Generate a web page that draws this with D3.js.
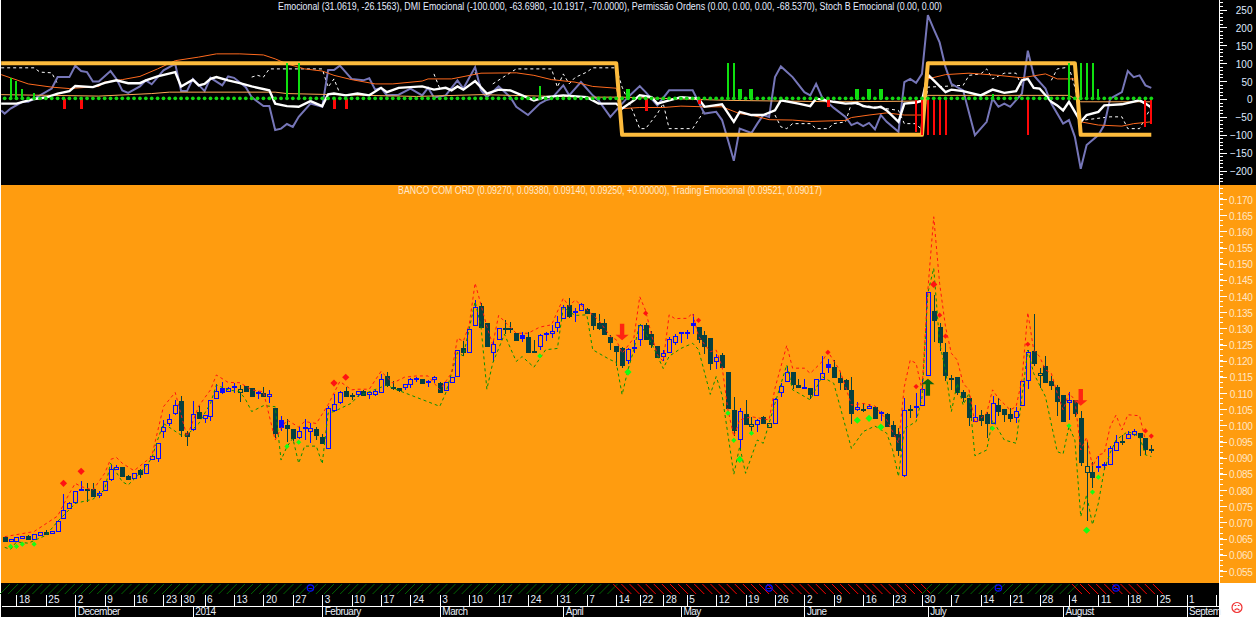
<!DOCTYPE html>
<html><head><meta charset="utf-8">
<script src="https://cdn.jsdelivr.net/npm/d3@7"></script>
<style>html,body{margin:0;padding:0;background:#fff;overflow:hidden}svg{display:block}text{font-family:"Liberation Sans",Arial,sans-serif}</style>
</head><body><svg id="c" width="1256" height="617"></svg>
<script>
const opens=[.0656,.0642,.0641,.0650,.0659,.0648,.0662,.0671,.0666,.0673,.0713,.0746,.0762,.0804,.0804,.0804,.0786,.0799,.0832,.0867,.0872,.0844,.0836,.0862,.0851,.0897,.0898,.0985,.1008,.1036,.1074,.0977,.0990,.1042,.1024,.1030,.1083,.1104,.1105,.1121,.1112,.1121,.1115,.1102,.1099,.1089,.1054,.0995,.1001,.0989,.0962,.0991,.0981,.0988,.0964,.0930,.1046,.1071,.1105,.1093,.1096,.1107,.1097,.1097,.1105,.1152,.1120,.1115,.1118,.1128,.1142,.1143,.1133,.1142,.1131,.1109,.1133,.1154,.1240,.1226,.1310,.1370,.1316,.1226,.1267,.1301,.1301,.1285,.1269,.1274,.1231,.1245,.1286,.1284,.1304,.1332,.1372,.1353,.1355,.1359,.1347,.1317,.1317,.1273,.1246,.1239,.1202,.1244,.1265,.1311,.1283,.1246,.1215,.1225,.1259,.1288,.1290,.1309,.1304,.1279,.1270,.1200,.1218,.1165,.1048,.0956,.1035,.0999,.1004,.1025,.1007,.1008,.1101,.1137,.1165,.1124,.1120,.1116,.1095,.1142,.1182,.1180,.1147,.1141,.1110,.1052,.1050,.1054,.1057,.1042,.1036,.1002,.0974,.0845,.1052,.1055,.1063,.1154,.1354,.1305,.1227,.1148,.1150,.1104,.1084,.1015,.1033,.1035,.1007,.1063,.1051,.1036,.1024,.1062,.1139,.1230,.1161,.1184,.1138,.1119,.1094,.1074,.1079,.1022,.0874,.0856,.0875,.0876,.0881,.0925,.0951,.0963,.0972,.0976,.0961,.0927];
const highs=[.0659,.0650,.0655,.0658,.0661,.0664,.0672,.0677,.0674,.0708,.0788,.0763,.0798,.0828,.0821,.0821,.0798,.0828,.0878,.0878,.0873,.0847,.0853,.0864,.0881,.0906,.0946,.1017,.1035,.1079,.1091,.0982,.1077,.1060,.1033,.1079,.1128,.1134,.1120,.1130,.1126,.1123,.1116,.1106,.1120,.1110,.1055,.1029,.1019,.0990,.0996,.1019,.1009,.0994,.0972,.1060,.1097,.1105,.1118,.1100,.1106,.1108,.1104,.1110,.1160,.1165,.1138,.1116,.1128,.1148,.1151,.1144,.1139,.1153,.1133,.1135,.1151,.1234,.1260,.1299,.1388,.1378,.1317,.1260,.1302,.1326,.1320,.1286,.1289,.1289,.1263,.1282,.1290,.1311,.1337,.1373,.1393,.1363,.1378,.1363,.1348,.1345,.1328,.1280,.1247,.1241,.1239,.1263,.1310,.1318,.1292,.1247,.1233,.1272,.1282,.1290,.1295,.1345,.1305,.1292,.1271,.1221,.1223,.1166,.1088,.1054,.1079,.1025,.1019,.1030,.1009,.1084,.1130,.1184,.1166,.1144,.1144,.1117,.1144,.1215,.1204,.1202,.1165,.1143,.1149,.1073,.1069,.1065,.1060,.1046,.1037,.1014,.0991,.1085,.1062,.1099,.1144,.1412,.1403,.1316,.1254,.1156,.1151,.1110,.1085,.1063,.1048,.1043,.1091,.1084,.1052,.1053,.1058,.1138,.1233,.1345,.1178,.1215,.1153,.1125,.1095,.1102,.1080,.1045,.0950,.0888,.0904,.0888,.0935,.0971,.0971,.0983,.0989,.0978,.0962,.0938];
const lows=[.0639,.0640,.0640,.0649,.0649,.0647,.0660,.0660,.0665,.0672,.0712,.0743,.0758,.0803,.0763,.0782,.0775,.0798,.0828,.0862,.0840,.0833,.0835,.0836,.0850,.0896,.0888,.0962,.0998,.1033,.0965,.0936,.0983,.1021,.1006,.1015,.1082,.1097,.1104,.1101,.1072,.1103,.1088,.1081,.1087,.1068,.0960,.0984,.0950,.0952,.0959,.0955,.0947,.0955,.0942,.0928,.1040,.1067,.1088,.1079,.1087,.1095,.1083,.1090,.1099,.1120,.1110,.1102,.1110,.1117,.1133,.1127,.1120,.1131,.1100,.1107,.1132,.1153,.1215,.1225,.1309,.1301,.1241,.1195,.1266,.1282,.1285,.1262,.1257,.1228,.1228,.1232,.1260,.1270,.1290,.1331,.1333,.1321,.1353,.1344,.1296,.1294,.1280,.1232,.1184,.1179,.1190,.1223,.1247,.1264,.1239,.1211,.1200,.1224,.1249,.1254,.1268,.1282,.1254,.1221,.1171,.1175,.1177,.1052,.0966,.0924,.1002,.0981,.0981,.1003,.0995,.1007,.1088,.1135,.1114,.1115,.1118,.1081,.1094,.1141,.1163,.1147,.1110,.1108,.1005,.1045,.1043,.1050,.1022,.1014,.0996,.0966,.0907,.0842,.1023,.1022,.1062,.1153,.1259,.1230,.1136,.1110,.1094,.1071,.0999,.1014,.0997,.0961,.1006,.1030,.1012,.1010,.1007,.1061,.1114,.1185,.1117,.1134,.1110,.1030,.1014,.1017,.1027,.0875,.0706,.0808,.0857,.0861,.0878,.0923,.0939,.0961,.0966,.0906,.0909,.0914];
const closes=[.0643,.0648,.0654,.0657,.0650,.0663,.0670,.0666,.0673,.0704,.0738,.0760,.0796,.0805,.0803,.0783,.0792,.0827,.0864,.0872,.0844,.0836,.0852,.0851,.0880,.0905,.0945,.0996,.1019,.1062,.0984,.0968,.1036,.1024,.1032,.1078,.1105,.1115,.1115,.1121,.1104,.1104,.1089,.1102,.1089,.1096,.0978,.1017,.0993,.0962,.0982,.0994,.0991,.0968,.0946,.1055,.1066,.1103,.1090,.1092,.1105,.1096,.1103,.1107,.1144,.1123,.1119,.1110,.1127,.1143,.1146,.1130,.1136,.1149,.1102,.1134,.1150,.1233,.1227,.1298,.1366,.1305,.1246,.1251,.1301,.1300,.1300,.1263,.1279,.1229,.1229,.1279,.1286,.1291,.1321,.1366,.1337,.1353,.1375,.1347,.1311,.1301,.1282,.1256,.1231,.1187,.1235,.1244,.1309,.1267,.1252,.1213,.1223,.1266,.1277,.1288,.1290,.1316,.1267,.1244,.1192,.1211,.1180,.1054,.0986,.1044,.1005,.1004,.1016,.1005,.0996,.1081,.1121,.1164,.1128,.1117,.1120,.1097,.1143,.1161,.1190,.1148,.1135,.1112,.1040,.1057,.1049,.1060,.1024,.1042,.1000,.0969,.0925,.1047,.1051,.1059,.1112,.1411,.1326,.1259,.1157,.1147,.1105,.1088,.1024,.1026,.1019,.1006,.1069,.1043,.1034,.1024,.1044,.1137,.1227,.1194,.1155,.1136,.1125,.1077,.1015,.1079,.1040,.0886,.0854,.0842,.0875,.0880,.0931,.0950,.0950,.0974,.0982,.0963,.0928,.0925];
const hollowDark=[40,127,130,176,184];
const filledBlue=[37,47,88,117,140];

const upperIdx=[0,5,9,11,12,13,15,17,18,19,20,22,25,27,29,31,33,35,36,38,40,42,44,46,47,48,50,51,53,55,57,59,60,62,64,66,68,70,72,74,76,77,78,79,80,81,82,83,84,87,89,91,93,95,96,97,99,101,103,104,105,107,108,109,110,111,112,113,114,115,116,117,118,120,121,122,123,124,125,127,130,131,133,134,136,137,139,140,142,143,144,146,148,150,152,153,154,155,156,157,158,159,160,161,162,163,164,165,166,167,168,169,171,172,173,174,175,176,177,178,179,180,181,182,183,184,185,186,187,188,189,190,191,193,194];
const upperVal=[.0656,.0672,.0720,.0790,.0821,.0811,.0800,.0852,.0895,.0901,.0883,.0860,.0904,.1058,.1102,.0965,.1060,.1110,.1156,.1133,.1132,.1110,.1104,.0955,.0991,.1017,.0995,.1012,.1006,.1064,.1136,.1110,.1112,.1112,.1167,.1131,.1149,.1153,.1153,.1110,.1162,.1270,.1260,.1311,.1440,.1373,.1306,.1250,.1340,.1285,.1285,.1304,.1311,.1393,.1368,.1388,.1357,.1326,.1275,.1265,.1223,.1270,.1398,.1355,.1280,.1218,.1198,.1342,.1330,.1331,.1331,.1347,.1275,.1228,.1233,.1182,.1048,.0966,.1017,.1027,.1017,.1115,.1247,.1177,.1177,.1161,.1197,.1228,.1171,.1120,.1063,.1068,.1060,.1017,.0945,.1120,.1202,.1192,.1110,.1419,.1645,.1439,.1305,.1223,.1202,.1130,.1110,.1007,.1022,.1038,.1110,.1084,.1048,.1058,.1141,.1349,.1233,.1213,.1172,.1161,.1100,.1048,.1100,.1079,.0924,.0963,.0873,.0909,.0914,.0996,.1032,.0986,.1033,.1030,.0955];
const lowerIdx=[0,1,2,4,7,9,12,15,17,18,20,21,23,25,26,27,30,31,33,35,36,38,40,41,42,44,46,47,48,49,50,51,53,54,55,56,59,60,65,66,74,75,77,78,80,81,82,83,85,86,87,88,90,92,94,95,97,99,100,102,103,104,105,106,107,108,110,112,113,115,117,118,120,121,122,124,125,126,128,129,131,133,134,135,137,139,141,144,146,148,150,151,152,153,155,156,157,158,159,160,161,162,163,164,165,167,168,170,172,173,174,175,177,179,180,181,182,183,184,185,186,187,188,189,191,193,194,195];
const lowerVal=[.0623,.0617,.0640,.0636,.0660,.0703,.0759,.0772,.0801,.0883,.0826,.0816,.0852,.0898,.0955,.1006,.0970,.0970,.1006,.1068,.1125,.1110,.1104,.1079,.1043,.1061,.1058,.0893,.0934,.0960,.0883,.0936,.0936,.0881,.1038,.1043,.1069,.1090,.1125,.1115,.1059,.1100,.1225,.1215,.1383,.1306,.1112,.1193,.1282,.1239,.1198,.1213,.1180,.1234,.1238,.1365,.1340,.1342,.1234,.1213,.1203,.1195,.1095,.1172,.1234,.1316,.1254,.1176,.1214,.1238,.1254,.1234,.1096,.1151,.1094,.0849,.0935,.0852,.0955,.0945,.1068,.1187,.1110,.1100,.1079,.1151,.1130,.0929,.0981,.0998,.0976,.0925,.0842,.0990,.1012,.1085,.1410,.1486,.1254,.1172,.1043,.1130,.1063,.1100,.0906,.0924,.1017,.0955,.0945,.1089,.1233,.1161,.1089,.0919,.0912,.0997,.0955,.0718,.0785,.0693,.0760,.0863,.0915,.0955,.0981,.0966,.0909,.0904];

const bigRedIdx=[10,13,56,58,158], bigRedVal=[.0821,.0858,.1131,.1149,.1436];
const smallRedIdx=[109,118,140,155,159,160,174,194,195], smallRedVal=[.1347,.1325,.1226,.1120,.1341,.1276,.1251,.0983,.0967];
const bigGreenIdx=[106,125,145,147,149,184], bigGreenVal=[.1165,.0895,.1016,.1022,.0995,.0676];
const smallGreenIdx=[1,2,3,5,48,50,91,123,124,127,168,181,185,186], smallGreenVal=[.0626,.0626,.0633,.0633,.0935,.0948,.1215,.1038,.0954,.0976,.0991,.0999,.0794,.0840];
const arrowIdx=[105,183,157], arrowTail=[.1314,.1113,.1092], arrowTip=[.1263,.1061,.1144], arrowColor=["#ff2412","#ff2412","#0f630f"];

const yellowIdx=[-0.6,104,105,156,157,182,183,195], yellowVal=[100,100,-100,-100,100,100,-100,-100];
const purpleIdx=[-0.6,0,1,3,4,5,6,8,9,11,12,13,14,15,16,18,19,20,21,23,24,25,27,28,29,30,31,32,34,35,37,38,39,41,42,44,45,46,47,48,49,50,52,54,55,56,57,59,61,62,63,64,65,67,69,71,72,73,75,77,78,80,81,82,84,86,87,89,91,92,93,95,96,98,100,101,103,105,106,108,109,111,113,115,117,119,121,122,123,124,125,127,128,129,130,131,132,134,136,137,138,139,141,143,144,145,146,147,148,149,150,152,153,154,155,156,157,158,159,160,161,163,165,167,168,169,170,171,173,174,175,177,178,180,181,182,183,184,186,187,188,189,190,191,192,193,194,195];
const purpleVal=[-32,-41,-27,-8,-8,0,10,29,61,61,93,78,75,49,49,78,56,24,17,35,52,41,80,89,98,22,22,56,22,59,38,63,59,33,5,-20,-20,-87,-83,-70,-78,-50,-13,-22,81,81,93,56,52,58,26,31,10,12,29,10,31,4,10,52,29,89,24,5,35,5,-22,-45,-13,-4,1,38,10,47,10,-4,-50,-13,5,36,19,-18,24,24,24,-41,-36,-59,-115,-173,-83,-95,-69,-45,-50,61,91,61,19,10,42,5,-25,-50,-73,-66,-76,-67,-85,-45,-64,-92,47,56,45,70,234,195,158,89,42,24,-101,-64,1,-22,-13,-22,15,135,66,29,-13,-69,-59,-106,-195,-129,-101,-73,1,10,19,78,61,66,38,31];
const whiteIdx=[-0.6,2,5,7,9,11,12,15,17,19,21,23,24,26,29,30,32,33,34,35,36,38,40,42,45,46,48,50,52,54,55,56,58,60,62,64,65,67,71,73,75,76,77,78,80,82,84,86,88,90,92,95,99,101,104,105,107,108,110,111,113,115,118,119,122,124,125,127,129,131,132,135,137,138,141,143,145,146,148,149,150,152,153,155,156,157,158,160,161,163,166,168,170,172,173,174,175,176,178,179,180,181,183,184,186,187,190,193,194,195];
const whiteVal=[-13,-13,0,4,15,22,36,33,45,52,44,44,52,63,75,35,54,38,42,56,61,52,44,35,24,-13,-20,-22,-6,-20,13,15,10,15,10,31,19,31,35,26,31,24,35,26,50,15,26,24,10,-4,5,10,5,-13,-13,-27,-4,10,5,-13,-4,5,1,-22,-15,-64,-36,-45,-45,-32,-4,-13,-20,1,-8,-13,-11,-20,-25,-22,-32,-64,-13,-10,-5,68,52,19,26,22,10,26,17,22,52,56,31,29,-8,-18,-32,-8,-64,-45,-36,-18,-15,-4,-13,-24];
const orange1Idx=[-0.6,1,4,8,11,16,17,20,23,26,29,33,36,40,44,46,48,51,54,56,59,63,66,71,72,76,81,87,90,93,97,100,104,105,108,112,115,119,122,125,127,130,134,137,141,143,144,147,150,153,156,157,160,164,169,173,177,179,182,183,186,190,192,195];
const orange1Val=[68,59,42,33,29,35,47,54,63,84,107,117,126,126,123,112,98,84,78,66,54,42,42,50,56,56,72,73,66,54,47,35,30,-27,-24,-24,-20,-22,-22,-41,-45,-58,-59,-63,-61,-60,-52,-45,-39,-45,-45,56,68,72,66,59,70,56,56,-64,-73,-76,-69,-64];
const orange2Idx=[-0.6,16,25,28,46,48,70,81,99,105,123,142,156,157,181,183,195];
const orange2Val=[12,8,15,19,19,15,7,12,5,5,-4,-8,-6,10,10,-8,-8];
const stochIdx=[-0.6,5,6,8,9,10,41,42,43,44,45,54,55,56,57,58,73,74,75,80,81,82,83,87,93,94,95,96,97,99,100,104,105,107,108,109,111,112,113,117,119,120,131,132,133,134,137,138,140,141,143,144,152,153,155,156,157,163,164,166,167,168,170,172,173,174,178,179,181,182,183,188,190,191,193,195];
const stochVal=[87,87,75,73,42,null,null,61,66,61,84,84,33,56,15,null,70,29,null,75,35,null,42,84,84,33,70,42,60,75,87,87,33,-41,-83,-83,-41,-13,-83,-83,-32,null,-45,-78,-83,-69,-69,-83,-83,-69,-64,-13,-32,-69,-69,-87,33,38,66,70,84,56,72,72,33,null,52,84,89,33,-60,-50,-50,-83,-83,-22];
const histUpIdx=[1,2,3,5,48,50,91,106,123,124,125,127,145,147,149,168,181,183,184,185,186];
const histUpVal=[59,49,29,17,100,100,35,29,100,100,29,29,29,29,29,14,100,100,100,100,29];
const histDownIdx=[10,13,56,58,109,118,140,155,156,157,158,159,160,174,194,195];
const histDownVal=[-27,-27,-27,-27,-34,-13,-22,-92,-100,-100,-100,-100,-100,-100,-78,-70];
const wideBars=[106,125,127,145,147,149];

const topTicks=[250,200,150,100,50,0,-50,-100,-150,-200];
const mainTicks=[.170,.165,.160,.155,.150,.145,.140,.135,.130,.125,.120,.115,.110,.105,.100,.095,.090,.085,.080,.075,.070,.065,.060,.055];
const weekIdx=[2,7,12,17,22,27,30,34,39,44,49,54,59,64,69,74,79,84,89,94,99,104,108,112,116,121,126,131,136,141,146,151,156,161,166,171,176,181,186,191,196,201,206];
const weekLabels=["18","25","2","9","16","23","30","6","13","20","27","3","10","17","24","3","10","17","24","31","7","14","22","28","5","12","19","26","2","9","16","23","30","7","14","21","28","4","11","18","25","1",""];
const monthIdx=[12,32,54,74,95,115,136,157,180,201];
const monthLabels=["December","2014","February","March","April","May","June","July","August","Septem"];
const zoneFrom=[-0.8,103.5,156,181.5], zoneTo=[103.5,156,181,195.8], zoneColor=["#006400","#ff0000","#006400","#ff0000"], zoneDir=[1,-1,1,-1];
const faceIdx=[52,130,169,189];
const titleTop="Emocional (31.0619, -26.1563), DMI Emocional (-100.000, -63.6980, -10.1917, -70.0000), Permissão Ordens (0.00, 0.00, 0.00, -68.5370), Stoch B Emocional (0.00, 0.00)";
const titleMain="BANCO COM ORD (0.09270, 0.09380, 0.09140, 0.09250, +0.00000), Trading Emocional (0.09521, 0.09017)";

const svg=d3.select("#c");
const x=d3.scaleLinear().domain([0,195]).range([4.7,1151.3]);
const yT=d3.scaleLinear().domain([-200,250]).range([170.5,9.5]);
const yM=d3.scaleLinear().domain([.055,.170]).range([571,199]);
const ORANGE="#ff9c0f", DARK="#06403f", BLUE="#0a0aff";
const px=v=>Math.round(v)+.5;

// panels
svg.append("rect").attr("x",1).attr("y",0).attr("width",1255).attr("height",185).attr("fill","#000");
svg.append("rect").attr("x",1).attr("y",185).attr("width",1255).attr("height",398).attr("fill",ORANGE);
svg.append("rect").attr("x",1).attr("y",583).attr("width",1218).attr("height",34).attr("fill","#000");

// top panel lines
const pts=(I,V)=>I.map((d,k)=>[d,V[k]]);
const lineT=d3.line().defined(d=>d[1]!==null).x(d=>x(d[0])).y(d=>yT(d[1]));
const topG=svg.append("g");
topG.append("path").attr("d",lineT(pts(stochIdx,stochVal))).attr("fill","none").attr("stroke","#fff").attr("stroke-width",1).attr("stroke-dasharray","3,3");
topG.append("path").attr("d",lineT(pts(purpleIdx,purpleVal))).attr("fill","none").attr("stroke","#7676b8").attr("stroke-width",2);
topG.append("path").attr("d",lineT(pts(orange2Idx,orange2Val))).attr("fill","none").attr("stroke","#ffa858").attr("stroke-width",1);
topG.append("path").attr("d",lineT(pts(orange1Idx,orange1Val))).attr("fill","none").attr("stroke","#ff6a1e").attr("stroke-width",1);
topG.append("path").attr("d",lineT(pts(whiteIdx,whiteVal))).attr("fill","none").attr("stroke","#fff").attr("stroke-width",2.4);
topG.append("path").attr("d",lineT(pts(yellowIdx,yellowVal))).attr("fill","none").attr("stroke","#fdbb3c").attr("stroke-width",4).attr("stroke-linejoin","round");
topG.selectAll(".hu").data(pts(histUpIdx,histUpVal)).join("rect").attr("fill","#0fe00f").attr("shape-rendering","crispEdges")
 .attr("x",d=>x(d[0])-(wideBars.includes(d[0])?2:1)).attr("width",d=>wideBars.includes(d[0])?4:2)
 .attr("y",d=>yT(d[1])).attr("height",d=>yT(0)-yT(d[1]));
topG.selectAll(".hd").data(pts(histDownIdx,histDownVal)).join("rect").attr("fill","#ff0808").attr("shape-rendering","crispEdges")
 .attr("x",d=>x(d[0])-1).attr("width",d=>d[1]<-60?2:3)
 .attr("y",yT(0)).attr("height",d=>yT(d[1])-yT(0));
topG.selectAll(".dot").data(d3.range(opens.length)).join("path")
 .attr("transform",i=>`translate(${x(i)},${yT(0)-.6})`).attr("d",d3.symbol(d3.symbolCircle,11)).attr("fill","#14d814");

// main panel candles
const mainG=svg.append("g");
const cand=mainG.selectAll(".c").data(d3.range(opens.length)).join("g");
const isUp=i=>closes[i]>=opens[i]&&!hollowDark.includes(i);
const col=i=>isUp(i)?BLUE:DARK;
cand.append("line").attr("x1",i=>px(x(i))).attr("x2",i=>px(x(i))).attr("y1",i=>yM(highs[i])).attr("y2",i=>yM(lows[i])).attr("stroke",col).attr("stroke-width",1).attr("shape-rendering","crispEdges");
cand.append("rect").attr("shape-rendering","crispEdges")
 .attr("x",i=>Math.round(x(i))-1.5).attr("width",4)
 .attr("y",i=>Math.round(yM(Math.max(opens[i],closes[i])))+.5)
 .attr("height",i=>Math.max(1,Math.round(Math.abs(yM(opens[i])-yM(closes[i])))))
 .attr("stroke",col).attr("stroke-width",1)
 .attr("fill",i=>{ if(hollowDark.includes(i))return ORANGE; if(!isUp(i))return DARK; return filledBlue.includes(i)?BLUE:ORANGE;});
const lineM=d3.line().x(d=>x(d[0])).y(d=>yM(d[1]));
mainG.append("path").attr("d",lineM(pts(lowerIdx,lowerVal))).attr("fill","none").attr("stroke","#059005").attr("stroke-width",1).attr("stroke-dasharray","3,3");
mainG.append("path").attr("d",lineM(pts(upperIdx,upperVal))).attr("fill","none").attr("stroke","#ff1212").attr("stroke-width",1).attr("stroke-dasharray","3,3");

const dia=(I,V,r,c)=>mainG.selectAll(null).data(pts(I,V)).join("path")
 .attr("transform",d=>`translate(${x(d[0])},${yM(d[1])}) rotate(45)`).attr("d",d3.symbol(d3.symbolSquare,2*r*r)).attr("fill",c);
dia(bigRedIdx,bigRedVal,3.6,"#ff1212"); dia(smallRedIdx,smallRedVal,2.6,"#ff1212");
dia(bigGreenIdx,bigGreenVal,3.6,"#14ff14"); dia(smallGreenIdx,smallGreenVal,2.6,"#14ff14");

arrowIdx.forEach((a,k)=>{
 const cx=x(a), t=yM(arrowTip[k]), b=yM(arrowTail[k]);
 const h=t+(b>t?5.5:-5.5);
 mainG.append("path").attr("fill",arrowColor[k]).attr("d",d3.line()([[cx,t],[cx+6.6,h],[cx+2.2,h],[cx+2.2,b],[cx-2.2,b],[cx-2.2,h],[cx-6.6,h]])+"Z");
});

// hatch strip
const hatch=svg.append("g");
zoneFrom.forEach((f,k)=>{
 const x0=x(f), x1=x(zoneTo[k]);
 hatch.selectAll(null).data(d3.range(x0,x1,8.1)).join("line")
  .attr("x1",d=>d).attr("x2",d=>d+10).attr("y1",zoneDir[k]>0?594:584).attr("y2",zoneDir[k]>0?584:594)
  .attr("stroke",zoneColor[k]).attr("stroke-width",1);
});
faceIdx.forEach(i=>{
 hatch.append("circle").attr("cx",x(i)).attr("cy",588).attr("r",3.2).attr("fill","none").attr("stroke","#0a0aff").attr("stroke-width",1.2);
 hatch.append("line").attr("x1",x(i)-2).attr("x2",x(i)+2).attr("y1",588.5).attr("y2",588.5).attr("stroke","#0a0aff");
});

// axes
const rightT=svg.append("g").attr("transform","translate(1219.5,0)")
 .call(d3.axisRight(yT).tickValues(topTicks).tickSize(7).tickPadding(5).tickFormat(d3.format("d")));
const rightTm=svg.append("g").attr("transform","translate(1219.5,0)")
 .call(d3.axisRight(yT).tickValues(d3.range(-230,271,10)).tickSize(3).tickFormat(""));
const rightM=svg.append("g").attr("transform","translate(1219.5,0)")
 .call(d3.axisRight(yM).tickValues(mainTicks).tickSize(7).tickPadding(5).tickFormat(d3.format(".3f")));
const rightMm=svg.append("g").attr("transform","translate(1219.5,0)")
 .call(d3.axisRight(yM).tickValues(d3.range(.0535,.1751,.005/3)).tickSize(3).tickFormat(""));
[rightT,rightTm,rightM,rightMm].forEach(g=>{g.select(".domain").remove();g.selectAll("line").attr("stroke","#fff").attr("shape-rendering","crispEdges");});
svg.append("line").attr("x1",1219.5).attr("x2",1219.5).attr("y1",0).attr("y2",583).attr("stroke","#fff").attr("shape-rendering","crispEdges");
rightT.selectAll("text").attr("fill","#dfe9ff").style("font-size","10px").attr("x",33).attr("text-anchor","end").attr("dy","0.4em");
rightM.selectAll("text").attr("fill","#ffe6c4").style("font-size","10px").style("letter-spacing","-0.3px").attr("x",33).attr("text-anchor","end").attr("dy","0.4em");

const bottom=svg.append("g").attr("transform","translate(0,606)")
 .call(d3.axisTop(x).tickValues(weekIdx).tickSize(11).tickFormat((d,k)=>weekLabels[k]));
bottom.select(".domain").remove();
svg.append("line").attr("x1",2).attr("x2",1219).attr("y1",606.5).attr("y2",606.5).attr("stroke","#fff").attr("shape-rendering","crispEdges");
bottom.selectAll("line").attr("stroke","#fff").attr("shape-rendering","crispEdges");
bottom.selectAll("text").attr("fill","#e8eef8").attr("text-anchor","start").attr("x",2).attr("y",-3).attr("dy",0).style("font-size","10px");
const months=svg.append("g").attr("transform","translate(0,606)")
 .call(d3.axisBottom(x).tickValues(monthIdx).tickSize(11).tickFormat((d,k)=>monthLabels[k]));
months.select(".domain").remove();
months.selectAll("line").attr("stroke","#fff").attr("shape-rendering","crispEdges");
months.selectAll("text").attr("fill","#e8eef8").attr("text-anchor","start").attr("x",2).attr("y",9).attr("dy",0).style("font-size","10px").style("letter-spacing","-0.5px");

// titles
svg.append("text").text(titleTop).attr("x",278).attr("y",9.5).attr("fill","#e4ecff").attr("textLength",664).attr("lengthAdjust","spacingAndGlyphs").style("font-size","10px");
svg.append("text").text(titleMain).attr("x",398).attr("y",193.5).attr("fill","#ffe8cc").attr("textLength",424).attr("lengthAdjust","spacingAndGlyphs").style("font-size","10px");

// status face
const face=svg.append("g").attr("transform","translate(1237,607.5)").attr("fill","none").attr("stroke","#f03030").attr("stroke-width",1.2);
face.append("circle").attr("r",5);
face.append("path").attr("d","M-2.5 2.8Q0 0 2.5 2.8");
face.append("path").attr("d","M-2.5 -2H-.8M.8 -2H2.5");
</script></body></html>
